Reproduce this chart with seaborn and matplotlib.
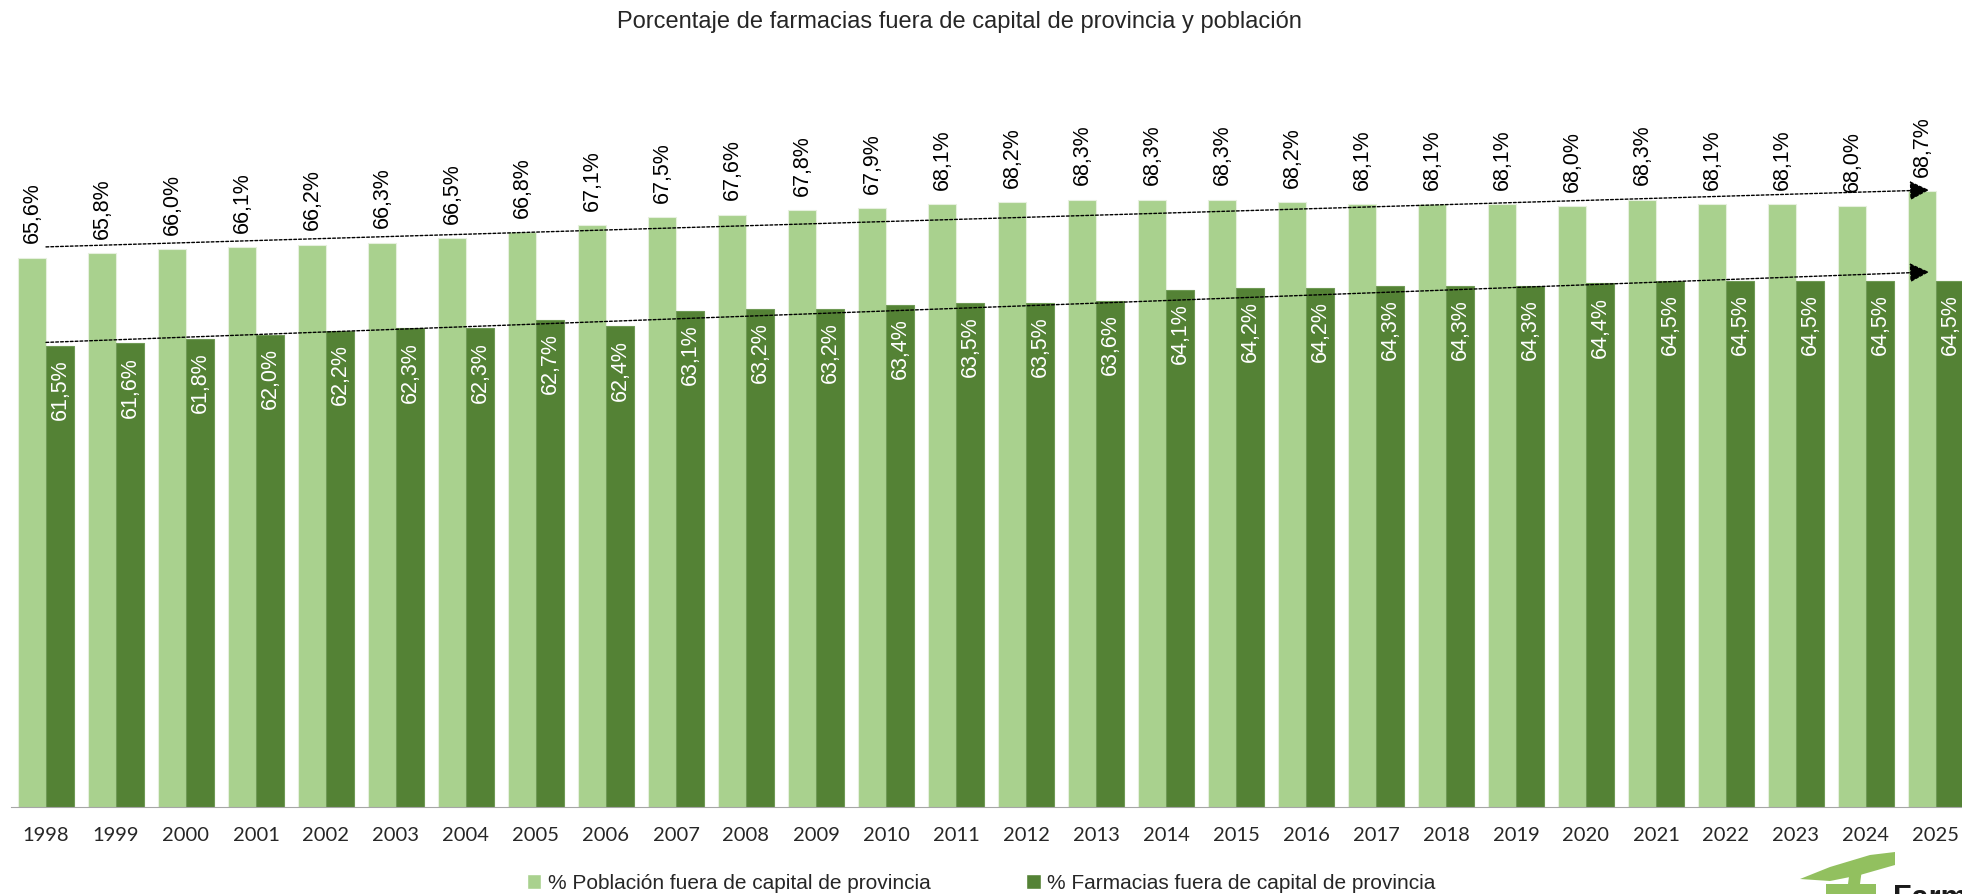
import numpy as np
import pandas as pd
import matplotlib
matplotlib.use("Agg")
import matplotlib.pyplot as plt
from matplotlib.patches import Polygon, Patch
import seaborn as sns

years = [str(y) for y in range(1998, 2026)]
poblacion = [65.6, 65.8, 66.0, 66.1, 66.2, 66.3, 66.5, 66.8, 67.1, 67.5, 67.6, 67.8, 67.9, 68.1,
             68.2, 68.3, 68.3, 68.3, 68.2, 68.1, 68.1, 68.1, 68.0, 68.3, 68.1, 68.1, 68.0, 68.7]
farmacias = [61.5, 61.6, 61.8, 62.0, 62.2, 62.3, 62.3, 62.7, 62.4, 63.1, 63.2, 63.2, 63.4, 63.5,
             63.5, 63.6, 64.1, 64.2, 64.2, 64.3, 64.3, 64.3, 64.4, 64.5, 64.5, 64.5, 64.5, 64.5]
series = ["% Población fuera de capital de provincia", "% Farmacias fuera de capital de provincia"]
# trend arrows drawn on the chart (start, end) in data units
trend_pob = [(0.0, 66.1), (26.9, 68.75)]
trend_farm = [(0.0, 61.65), (26.9, 64.93)]

df = pd.DataFrame({
    "year": years * 2,
    "valor": poblacion + farmacias,
    "serie": [series[0]] * len(years) + [series[1]] * len(years),
})

sns.set_style("white")
plt.rcParams['font.family'] = ['Liberation Sans', 'DejaVu Sans']

W, H = 1962, 895
fig = plt.figure(figsize=(W / 100, H / 100), dpi=100)
ymin, ymax = 40, 72
px_per = 21.46
ax_h = (ymax - ymin) * px_per
ax = fig.add_axes([11 / W, 87 / H, 1960 / W, ax_h / H])

light, dark = "#A9D18E", "#548235"
sns.barplot(data=df, x="year", y="valor", hue="serie", palette=[light, dark], saturation=1,
            width=0.8, ax=ax, legend=False, edgecolor="#e6f0de", linewidth=0.8)
for p in ax.containers[1]:
    p.set_edgecolor("#6f9a55")

ax.set_ylim(ymin, ymax)
ax.set_xlim(-0.5, 27.5)

for p, v in zip(ax.containers[0], poblacion):
    ax.annotate(f"{v:.1f}%".replace(".", ","), (p.get_x() + p.get_width() / 2, v),
                xytext=(0, 11), textcoords="offset points", rotation=90,
                ha="center", va="bottom", fontsize=15.5, color="black")
for p, v in zip(ax.containers[1], farmacias):
    ax.annotate(f"{v:.1f}%".replace(".", ","), (p.get_x() + p.get_width() / 2, v),
                xytext=(0, -9), textcoords="offset points", rotation=90,
                ha="center", va="top", fontsize=15.5, color="white")

for tr in (trend_pob, trend_farm):
    ax.annotate("", xy=tr[1], xytext=tr[0],
                arrowprops=dict(arrowstyle="-|>", linestyle=(0, (2, 1.5)), color="black",
                                lw=1.0, mutation_scale=30, shrinkA=0, shrinkB=0))

for s in ["top", "right", "left"]:
    ax.spines[s].set_visible(False)
ax.spines["bottom"].set_color("#a6a6a6")
ax.set_yticks([])
ax.set_xticks(np.arange(-0.5, 28, 1), minor=False, labels=[""] * 29)
ax.tick_params(axis="x", which="major", length=7, color="#a6a6a6", width=1)
ax.set_xticks(np.arange(28), minor=True, labels=years)
ax.tick_params(axis="x", which="minor", length=0, pad=14)
for t in ax.get_xticklabels(minor=True):
    t.set_family(["Lato", "DejaVu Sans"])
    t.set_fontsize(14.5)
ax.set_xlabel("")
ax.set_ylabel("")

fig.text(0.489, 1 - 22 / H, "Porcentaje de farmacias fuera de capital de provincia y población",
         ha="center", va="center", fontsize=17)

# legend
handles = [Patch(facecolor=light), Patch(facecolor=dark)]
fig.legend(handles, series, loc="center", bbox_to_anchor=(0.5, 1 - 884 / H), ncol=2,
           frameon=False, handlelength=0.7, handleheight=0.7, handletextpad=0.3,
           columnspacing=4.6, prop={"size": 15})

# logo fragment (bottom right)
brush = Polygon([(1800, 880), (1830, 868), (1870, 856), (1895, 853), (1895, 866), (1860, 876), (1830, 882)],
                closed=True, transform=None, facecolor="#92c05f", edgecolor="none")
stem = Polygon([(1826, 895), (1826, 885), (1848, 885), (1850, 870), (1862, 870), (1860, 885), (1876, 885), (1876, 895)],
               closed=True, transform=None, facecolor="#92c05f", edgecolor="none")
for poly in (brush, stem):
    verts = poly.get_xy()
    verts[:, 1] = H - verts[:, 1]
    poly.set_xy(verts)
    fig.patches.append(poly)
fig.text(1893 / W, 1 - 884 / H, "Farmaindustria", ha="left", va="top", fontsize=22,
         fontweight="bold", color="#1a1a1a")

fig.savefig("out.png", dpi=100)
